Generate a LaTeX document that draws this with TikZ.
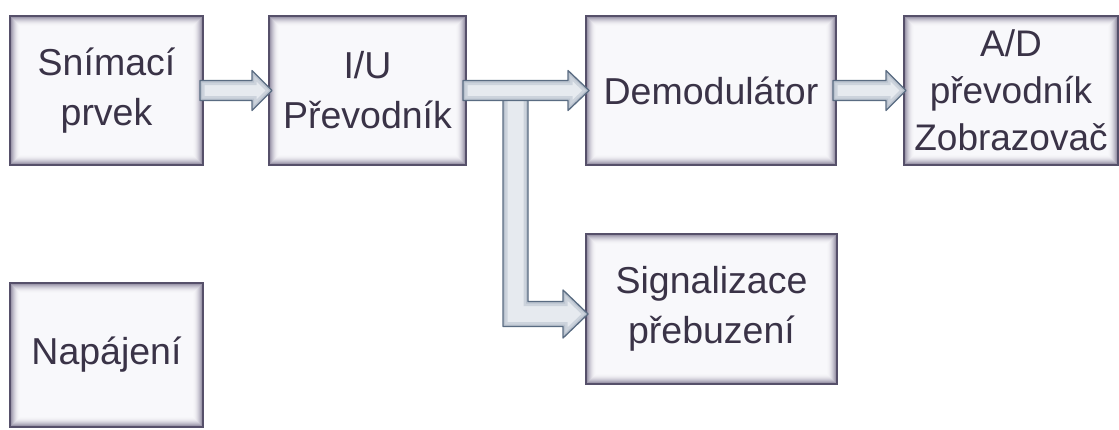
\documentclass[tikz,border=0pt]{standalone}
\usepackage{fontspec}
\setmainfont{Liberation Sans}
\usetikzlibrary{calc}
\definecolor{boxfill}{HTML}{F8F8FB}
\definecolor{boxline}{HTML}{56506A}
\definecolor{boxshadow}{HTML}{645C7A}
\definecolor{txt}{HTML}{3A3347}
\definecolor{arrfill}{HTML}{E6EAEF}
\definecolor{arrglow}{HTML}{9DAABB}
\definecolor{arrline}{HTML}{5A6C82}
\tikzset{
  blk/.style={draw=boxline, line width=1.4pt, fill=boxfill, inner sep=0pt, outer sep=0pt,
    text=txt, font=\fontsize{37.5}{50}\selectfont, align=center,
    path picture={
      \foreach \i in {1,...,10}{
        \pgfmathsetmacro\d{\i-0.4}
        \pgfmathsetmacro\op{0.75*((11-\i)/10)^2}
        \draw[boxshadow, line width=1pt, opacity=\op]
          ([shift={(\d pt,-\d pt)}]path picture bounding box.north west) rectangle
          ([shift={(-\d pt,\d pt)}]path picture bounding box.south east);
      }
    }},
  arrowfill/.style={fill=arrfill},
  arrowline/.style={draw=arrline, line width=1.3pt, line join=round},
}
\newcommand\fancyarrow[1]{%
  \begin{scope}
    \clip #1;
    \fill[arrowfill] #1;
    \draw[arrglow, line width=9pt, opacity=.35] #1;
    \draw[arrglow, line width=4pt, opacity=.4] #1;
  \end{scope}
  \draw[arrowline] #1;}
\begin{document}
\begin{tikzpicture}[x=1pt,y=-1pt]
\useasboundingbox (0,0) rectangle (1119,429);
\node[blk, minimum width=193pt, minimum height=149pt] (s1) at (106.5,90.5) {Snímací\\prvek};
\node[blk, minimum width=197pt, minimum height=149pt] (s2) at (367.5,90.5) {I/U\\Převodník};
\node[blk, minimum width=250pt, minimum height=149pt] (s3) at (711,90.5) {Demodulátor};
\node[blk, minimum width=214pt, minimum height=149pt, font=\fontsize{37}{47}\selectfont] (s4) at (1011,90.5) {A/D\\převodník\\Zobrazovač};
\node[blk, minimum width=251pt, minimum height=150pt] (s5) at (711.5,309) {Signalizace\\přebuzení};
\node[blk, minimum width=193pt, minimum height=144pt] (s6) at (106.5,355) {Napájení};
% connector end points
\coordinate (a1s) at ($(s1.east)+(-3pt,0)$);
\coordinate (a1t) at ($(s2.west)+(3pt,0)$);
\coordinate (a2s) at ($(s2.east)+(-3pt,0)$);
\coordinate (a2t) at ($(s3.west)+(3pt,0)$);
\coordinate (a3s) at ($(s3.east)+(-3pt,0)$);
\coordinate (a3t) at ($(s4.west)+(2pt,0)$);
\coordinate (b1) at ($(s2.east)+(37pt,0)$);
\coordinate (b2) at ($(s5.west)+(2pt,-5pt)$);
% bent branch to s5
\def\pathB{(b1) -- ($(b1)+(25pt,0)$) |- ($(b2)+(-25pt,12.5pt)$) -- ($(b2)+(-25pt,24pt)$) -- (b2) -- ($(b2)+(-25pt,-24pt)$) -- ($(b2)+(-25pt,-12.5pt)$) -| (b1) -- cycle}
\fancyarrow{\pathB}
\def\pathA{($(a1s)+(0,10pt)$) -- ($(a1t)+(-20pt,10pt)$) -- ($(a1t)+(-20pt,20pt)$) -- (a1t) -- ($(a1t)+(-20pt,-20pt)$) -- ($(a1t)+(-20pt,-10pt)$) -- ($(a1s)+(0,-10pt)$) -- cycle}
\fancyarrow{\pathA}
\def\pathC{($(a2s)+(0,10pt)$) -- ($(a2t)+(-21pt,10pt)$) -- ($(a2t)+(-21pt,20pt)$) -- (a2t) -- ($(a2t)+(-21pt,-20pt)$) -- ($(a2t)+(-21pt,-10pt)$) -- ($(a2s)+(0,-10pt)$) -- cycle}
\fancyarrow{\pathC}
\def\pathD{($(a3s)+(0,10pt)$) -- ($(a3t)+(-20pt,10pt)$) -- ($(a3t)+(-20pt,20pt)$) -- (a3t) -- ($(a3t)+(-20pt,-20pt)$) -- ($(a3t)+(-20pt,-10pt)$) -- ($(a3s)+(0,-10pt)$) -- cycle}
\fancyarrow{\pathD}
\end{tikzpicture}
\end{document}
